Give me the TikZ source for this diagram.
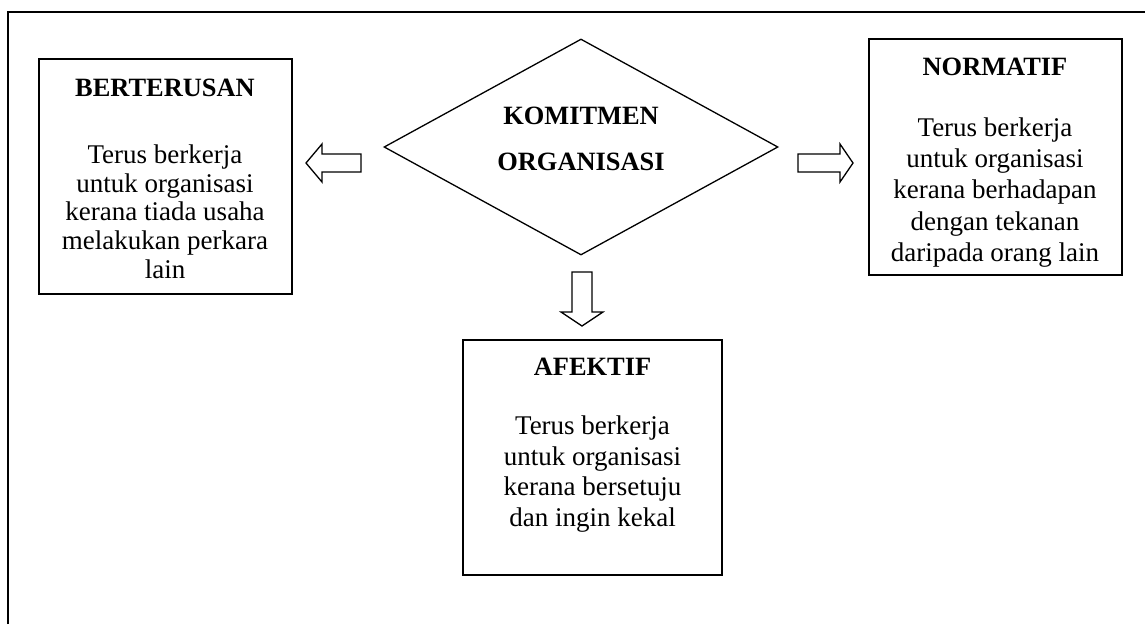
\documentclass[tikz,border=0pt]{standalone}
\usepackage{fontspec}
\setmainfont{Liberation Serif}
\usetikzlibrary{shapes.geometric}
\begin{document}
\begin{tikzpicture}[x=1pt,y=-1pt,
  frame/.style={line width=2pt},
  box/.style={draw,line width=1.5pt,inner sep=0pt,rectangle},
  dia/.style={draw,line width=1.3pt,inner sep=0pt,diamond},
  blockarrow/.style={draw,line width=1.3pt,line join=miter,fill=white},
  ttl/.style={font=\fontsize{26.4}{30}\selectfont\bfseries,inner sep=0pt,anchor=base},
  bodyA/.style={font=\fontsize{27}{28.75}\selectfont,align=center,inner sep=0pt,anchor=north},
  bodyB/.style={font=\fontsize{27}{31.25}\selectfont,align=center,inner sep=0pt,anchor=north},
  bodyC/.style={font=\fontsize{27}{30.7}\selectfont,align=center,inner sep=0pt,anchor=north},
  diatext/.style={font=\fontsize{26.4}{46}\selectfont\bfseries,align=center,inner sep=0pt,anchor=north}]
\useasboundingbox (0,0) rectangle (1145,624);
% outer frame
\coordinate (fbl) at (8,624);
\coordinate (ftl) at (8,12);
\coordinate (ftr) at (1145,12);
\draw[frame] (fbl) -- (ftl) -- (ftr);
% boxes
\node[box,minimum width=253pt,minimum height=235pt] (berterusan) at (165.5,176.5) {};
\node[box,minimum width=253pt,minimum height=236pt] (normatif) at (995.5,157) {};
\node[box,minimum width=259pt,minimum height=235pt] (afektif) at (592.5,457.5) {};
% diamond
\node[dia,minimum width=394pt,minimum height=216pt] (komitmen) at (581,147) {};
% texts
\node[diatext] (ktext) at (581,107) {KOMITMEN\\ORGANISASI};
\node[ttl] (t1) at (165,96.7) {BERTERUSAN};
\node[bodyA] (b1) at (165,144.5) {Terus berkerja\\untuk organisasi\\kerana tiada usaha\\melakukan perkara\\lain};
\node[ttl] (t2) at (995,75.7) {NORMATIF};
\node[bodyB] (b2) at (995,117.5) {Terus berkerja\\untuk organisasi\\kerana berhadapan\\dengan tekanan\\daripada orang lain};
\node[ttl] (t3) at (592.5,375.7) {AFEKTIF};
\node[bodyC] (b3) at (592.5,415.5) {Terus berkerja\\untuk organisasi\\kerana bersetuju\\dan ingin kekal};
% block arrows
\draw[blockarrow] (361,154) -- (322,154) -- (322,144) -- (306,163) -- (322,182) -- (322,172) -- (361,172) -- cycle;
\draw[blockarrow] (798,154) -- (840,154) -- (840,144) -- (853,163) -- (840,182) -- (840,172) -- (798,172) -- cycle;
\draw[blockarrow] (572,272) -- (592,272) -- (592,312) -- (603,312) -- (582,326) -- (561,312) -- (572,312) -- cycle;
\end{tikzpicture}
\end{document}
